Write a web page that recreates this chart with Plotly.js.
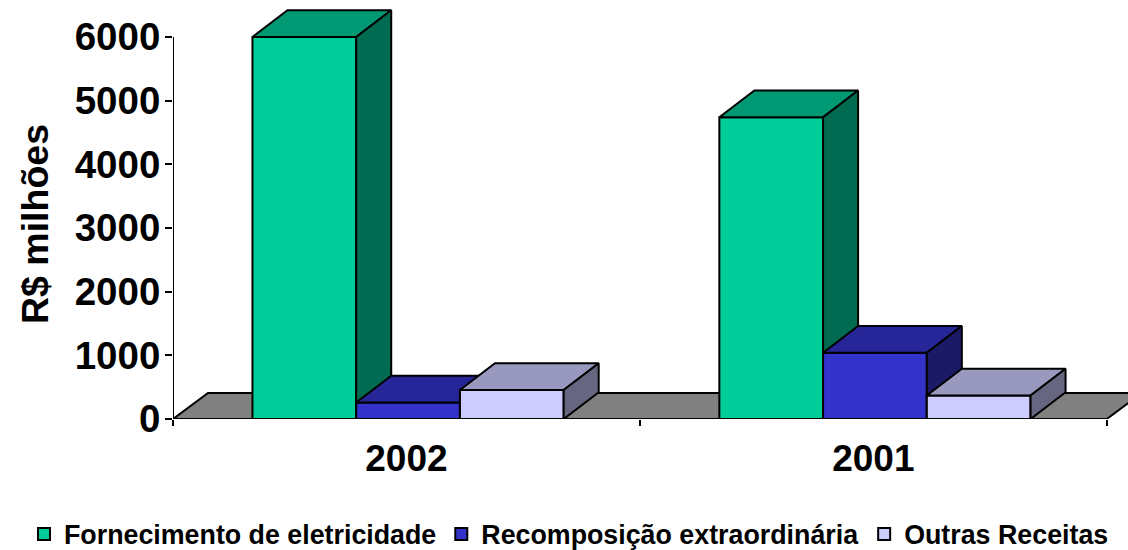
<!DOCTYPE html>
<html><head><meta charset="utf-8">
<script src="https://cdn.plot.ly/plotly-3.0.1.min.js"></script>
<style>html,body{margin:0;padding:0;background:#fff}</style></head>
<body><div id="chart" style="width:1128px;height:550px"></div>
<script>
var categories = ["2002", "2001"];
var seriesNames = ["Fornecimento de eletricidade", "Recomposição extraordinária", "Outras Receitas"];
var yTitle = "R$ milhões";
var fornecimento = [6000, 4740];
var recomposicao = [258, 1040];
var outras = [455, 370];
var frontColors = ["#00CC99", "#3333CC", "#CCCCFF"];
var topColors = ["#009973", "#262699", "#9999BF"];
var sideColors = ["#006B50", "#1A1A66", "#666680"];
var floorColor = "#808080";

var seriesValues = [fornecimento, recomposicao, outras];
var barW = 0.2222, depthX = 0.075, depthY = 420, floorDepth = 408;
var catX = categories.map(function(_, i){ return i; });
var FONT = '"Liberation Sans", Arial, sans-serif';
var traces = [];
var line = {color:"#000", width:2};

function poly(xs, ys, color, yaxis){
  return {type:"scatter", mode:"lines", x:xs, y:ys, fill:"toself", fillcolor:color,
    line:line, yaxis:yaxis, xaxis:"x", showlegend:false, hoverinfo:"skip", cliponaxis:false};
}
// floor
traces.push(poly([-0.5, -0.5+depthX, 1.5+depthX, 1.5, -0.5],[0, floorDepth, floorDepth, 0, 0], floorColor, "y"));

seriesValues.forEach(function(vals, s){
  var ya = "y" + (s+2);
  var offset = (s-1.5)*barW + 0.0035;
  traces.push({type:"bar", name:seriesNames[s], x:catX, y:vals, width:barW, offset:offset,
    marker:{color:frontColors[s], line:{color:"#000", width:2}}, yaxis:ya, xaxis:"x", cliponaxis:false});
  vals.forEach(function(v, c){
    var l = catX[c]+offset, r = l+barW;
    traces.push(poly([l, l+depthX, r+depthX, r, l],[v, v+depthY, v+depthY, v, v], topColors[s], ya));
    traces.push(poly([r, r+depthX, r+depthX, r, r],[0, depthY, v+depthY, v, 0], sideColors[s], ya));
  });
});

var yRange = [0, 6581];
var xRange = [-0.5, 1.5455];
var layout = {
  width:1128, height:550, paper_bgcolor:"#fff", plot_bgcolor:"rgba(0,0,0,0)",
  margin:{l:0, r:0, t:0, b:131, pad:0, autoexpand:false},
  font:{family:FONT, color:"#000"},
  showlegend:true,
  legend:{orientation:"h", x:24/1128, xref:"container", xanchor:"left", y:(419-534)/419, yref:"paper", yanchor:"middle",
    font:{size:26.8, family:FONT, weight:700}, itemwidth:30, traceorder:"normal", itemclick:false, bgcolor:"rgba(0,0,0,0)"},
  xaxis:{domain:[173/1128,1], range:xRange, tickmode:"array", tickvals:catX, ticktext:categories, ticks:"", showgrid:false, zeroline:false,
    showline:false, tickfont:{size:37, family:FONT, weight:700}, ticklabelstandoff:14,
    minor:{tickmode:"array", tickvals:[-0.5,0.5,1.5], ticks:"outside", ticklen:6, tickcolor:"#000", tickwidth:1.5, showgrid:false}},
  yaxis:{range:yRange, tickmode:"array", tickvals:[0,1000,2000,3000,4000,5000,6000], ticks:"outside", ticklen:7, tickwidth:1.5, tickcolor:"#000",
    showgrid:false, zeroline:false, showline:false,
    tickfont:{size:38.5, family:FONT, weight:700}, ticklabelstandoff:-3},
  yaxis2:{overlaying:"y", range:yRange, visible:false},
  yaxis3:{overlaying:"y", range:yRange, visible:false},
  yaxis4:{overlaying:"y", range:yRange, visible:false},
  annotations:[{text:yTitle, xref:"paper", yref:"paper", x:35/1128, y:(419-224)/419, xanchor:"center", yanchor:"middle",
    textangle:-90, showarrow:false, font:{size:37.5, family:FONT, weight:700, color:"#000"}}],
  shapes:[
    {type:"line", xref:"x", yref:"y", x0:-0.5, x1:-0.5, y0:0, y1:6000, line:{color:"#000", width:2}},
    {type:"line", xref:"x", yref:"y", x0:-0.5, x1:1.5, y0:0, y1:0, line:{color:"#000", width:2}}
  ]
};
Plotly.newPlot("chart", traces, layout, {displayModeBar:false, responsive:false});
</script></body></html>
